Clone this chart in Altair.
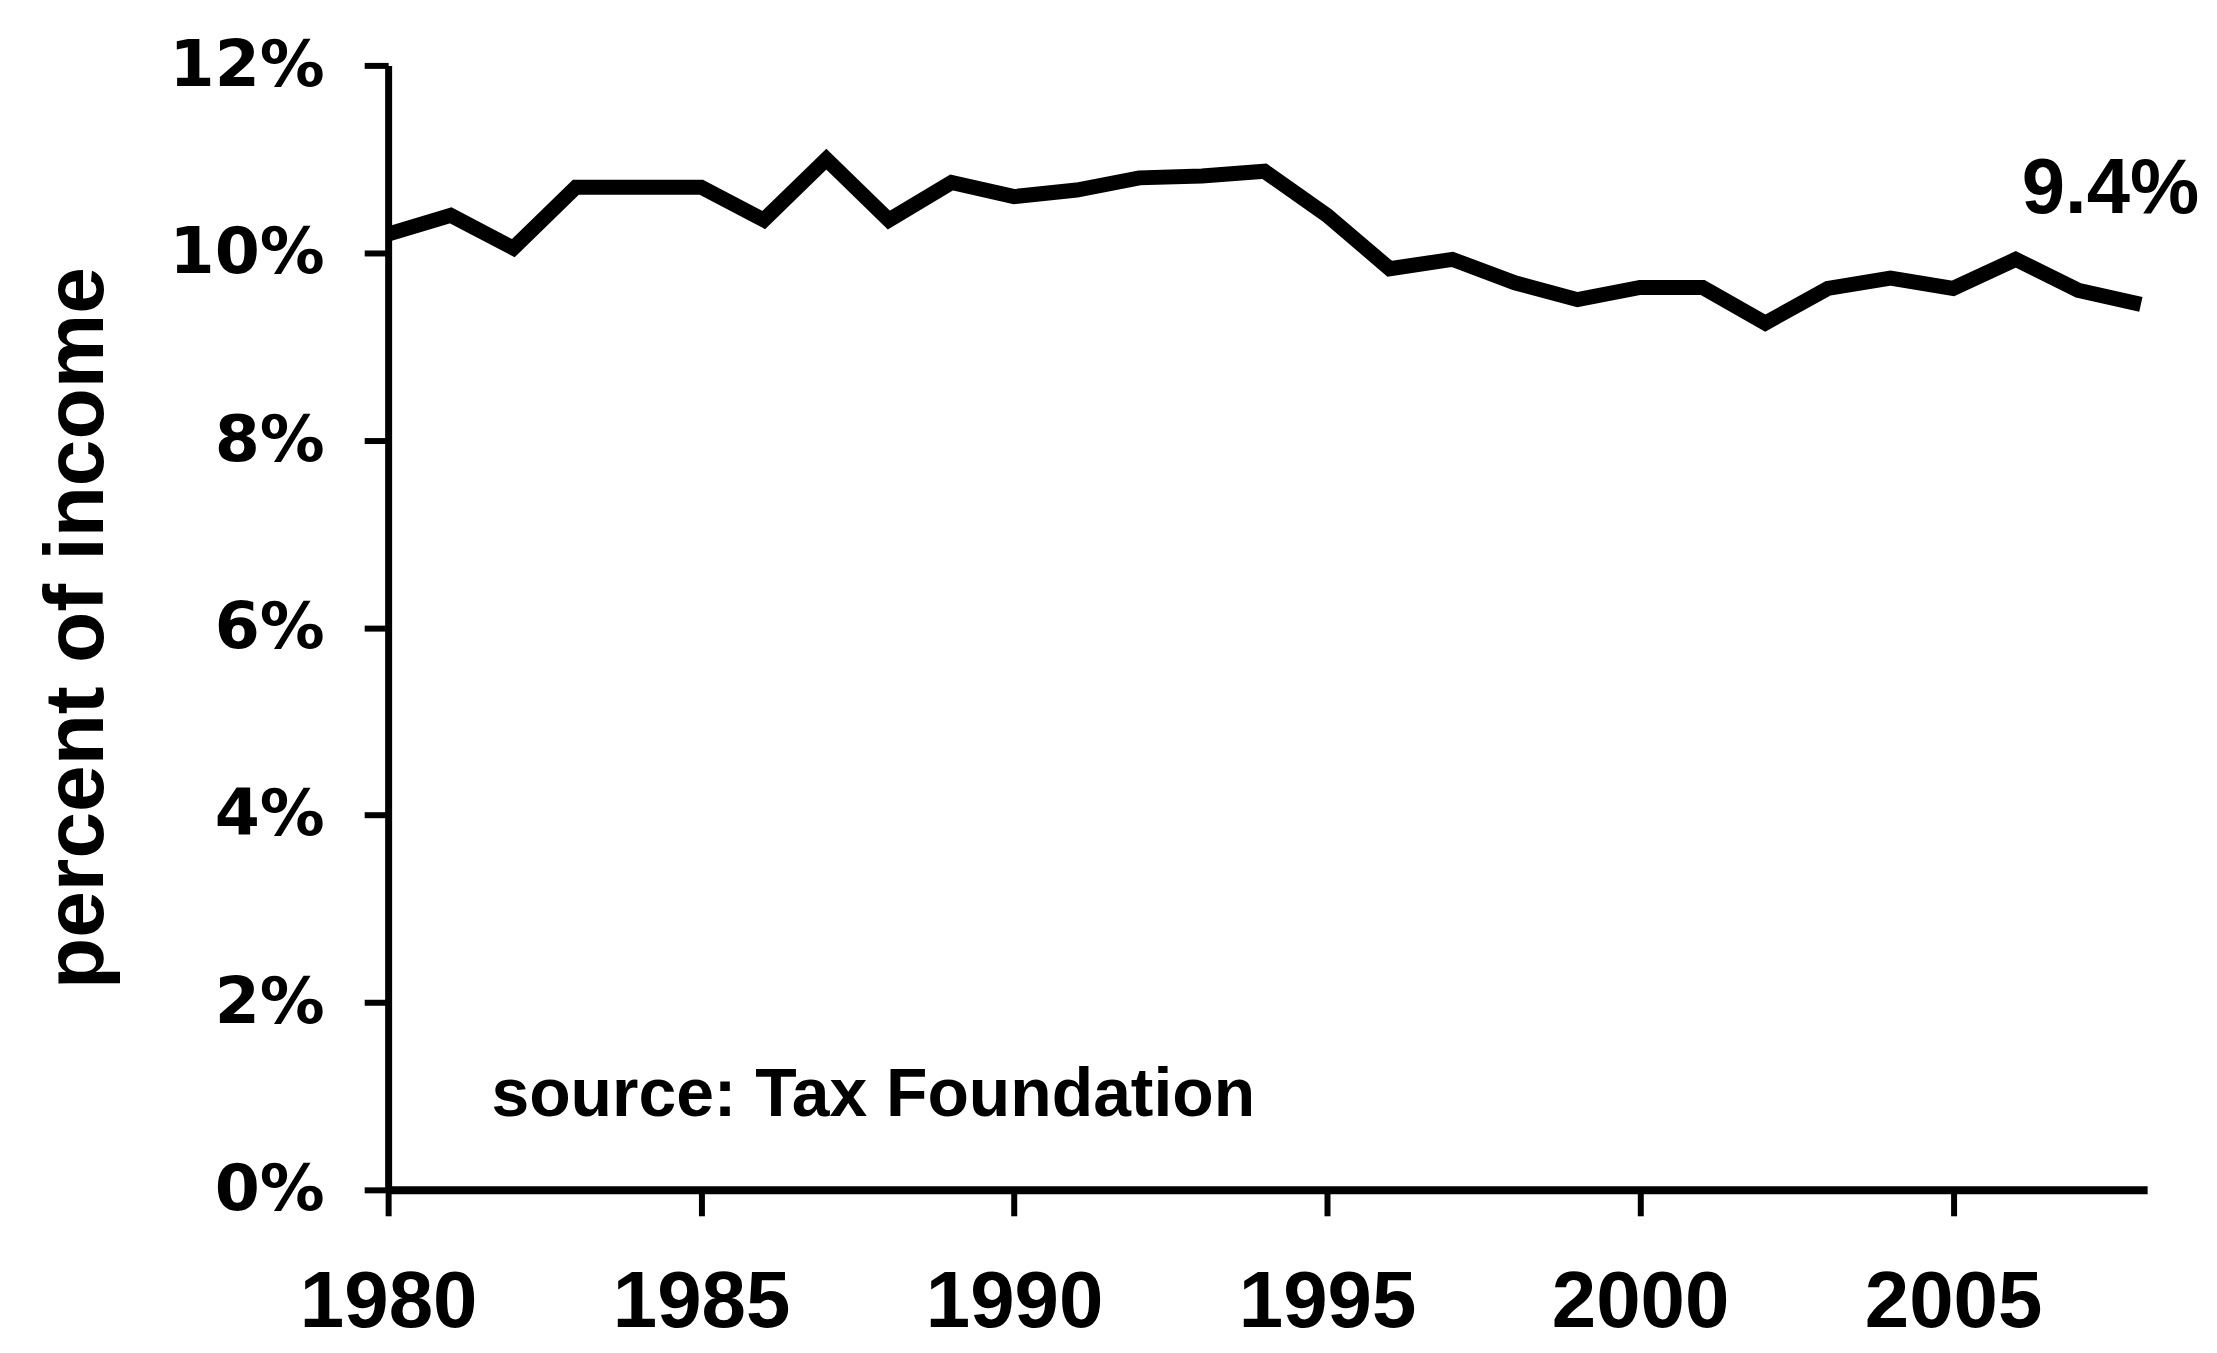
import altair as alt
import pandas as pd

years = list(range(1980, 2009))
burden = [10.2, 10.4, 10.05, 10.7, 10.7, 10.7, 10.35, 11.0, 10.35, 10.75,
          10.6, 10.67, 10.8, 10.82, 10.87, 10.4, 9.83, 9.93, 9.68, 9.5,
          9.63, 9.63, 9.25, 9.62, 9.73, 9.62, 9.93, 9.6, 9.45]

y_ticks = [0, 2, 4, 6, 8, 10, 12]
x_ticks = [1980, 1985, 1990, 1995, 2000, 2005]

ann_text = ["source: Tax Foundation", "9.4%"]
ann_x = [1981.65, 2008.93]
ann_y = [0.79, 10.43]

df = pd.DataFrame({"year": years, "pct": burden})
ann = pd.DataFrame({"text": ann_text, "x": ann_x, "y": ann_y})

xscale = alt.Scale(domain=[1980, 2008.1], nice=False, zero=False)
yscale = alt.Scale(domain=[0, 12], nice=False)

line = alt.Chart(df).mark_line(
    color="black", strokeWidth=15, strokeJoin="miter", strokeCap="butt"
).encode(
    x=alt.X("year:Q", scale=xscale,
            axis=alt.Axis(values=x_ticks, format="d", title=None, grid=False,
                          domainColor="black", domainWidth=8,
                          tickColor="black", tickWidth=6, tickSize=26,
                          labelFont="Liberation Sans", labelFontWeight="bold",
                          labelFontSize=80, labelColor="black", labelPadding=48,
                          labelLimit=0, labelFlush=False)),
    y=alt.Y("pct:Q", scale=yscale,
            axis=alt.Axis(values=y_ticks, labelExpr="datum.value + '%'",
                          title="percent of income", grid=False,
                          domainColor="black", domainWidth=7,
                          tickColor="black", tickWidth=6, tickSize=24,
                          labelFont="DejaVu Sans", labelFontWeight="bold",
                          labelFontSize=65, labelColor="black", labelPadding=40,
                          labelLimit=0,
                          titleFont="Liberation Sans", titleFontWeight="bold",
                          titleFontSize=84, titleColor="black", titlePadding=68)),
)

src = alt.Chart(ann.iloc[[0]]).mark_text(
    font="Liberation Sans", fontWeight="bold", color="black",
    baseline="alphabetic", align="left", fontSize=68
).encode(x=alt.X("x:Q", scale=xscale), y=alt.Y("y:Q", scale=yscale), text="text:N")

lab = alt.Chart(ann.iloc[[1]]).mark_text(
    font="Liberation Sans", fontWeight="bold", color="black",
    baseline="alphabetic", align="right", fontSize=78
).encode(x=alt.X("x:Q", scale=xscale), y=alt.Y("y:Q", scale=yscale), text="text:N")

chart = alt.layer(line, src, lab).properties(
    width=1763, height=1127,
    padding={"left": 381, "top": 56, "right": 62, "bottom": 160},
    autosize=alt.AutoSizeParams(type="none"),
    background="white",
).configure_view(stroke=None)

chart.save("out.html", embed_options={"renderer": "svg", "actions": False})
